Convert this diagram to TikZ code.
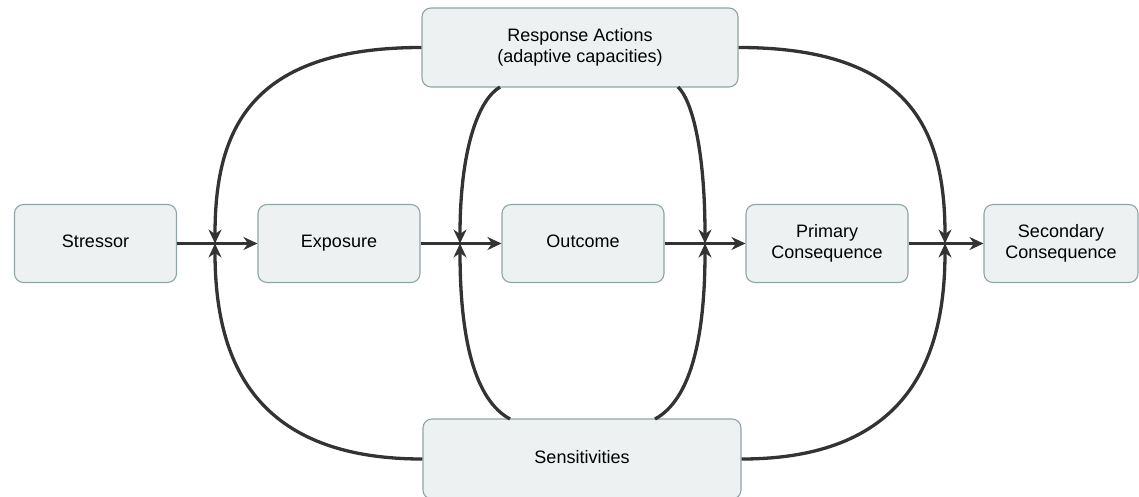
\documentclass[tikz,border=0pt]{standalone}
\usepackage{fontspec}
\setmainfont{Liberation Sans}
\usetikzlibrary{arrows.meta}
\definecolor{boxfill}{HTML}{EEF1F1}
\definecolor{boxline}{HTML}{8FA5A5}
\definecolor{linecol}{HTML}{333333}
\tikzset{
  box/.style={draw=boxline, line width=1.1pt, fill=boxfill, rounded corners=9pt,
    minimum width=162pt, minimum height=78pt, align=center, inner sep=2pt,
    font=\fontsize{18pt}{21pt}\selectfont},
  conn/.style={draw=linecol, line width=3.3pt, -{Stealth[length=14pt,width=13pt]}},
  curve/.style={draw=linecol, line width=3.3pt, -{Stealth[length=14pt,width=13pt]}},
}
\begin{document}
\begin{tikzpicture}[x=1pt,y=-1pt]
\useasboundingbox (0,0) rectangle (1139,496);
\node[box] (stressor) at (95.5,243.5) {\strut Stressor};
\node[box] (exposure) at (339,243.5) {\strut Exposure};
\node[box] (outcome) at (583,243.5) {\strut Outcome};
\node[box] (primary) at (827,243.5) {Primary\\Consequence};
\node[box, minimum width=154pt] (secondary) at (1061,243.5) {Secondary\\Consequence};
\node[box, minimum width=316pt, minimum height=79pt] (resp) at (580,47.5) {Response Actions\\(adaptive capacities)};
\node[box, minimum width=318pt, minimum height=80pt] (sens) at (582,459) {\strut Sensitivities};

\coordinate (j1) at (215,243.5);
\coordinate (j2) at (460,243.5);
\coordinate (j3) at (705,243.5);
\coordinate (j4) at (945,243.5);

\coordinate (r1) at (500,87);
\coordinate (r2) at (678,87);
\coordinate (s1) at (510,419);
\coordinate (s2) at (655,419);

% horizontal arrows
\draw[conn] (stressor.east) -- (exposure.west);
\draw[conn] (exposure.east) -- (outcome.west);
\draw[conn] (outcome.east) -- (primary.west);
\draw[conn] (primary.east) -- (secondary.west);

% outer curves
\draw[curve] (resp.west) .. controls (247,47.5) and (215,133) .. (j1);
\draw[curve] (sens.west) .. controls (248,459) and (215,353) .. (j1);
\draw[curve] (resp.east) .. controls (913,47.5) and (945,133) .. (j4);
\draw[curve] (sens.east) .. controls (912,459) and (945,353) .. (j4);

% inner curves
\draw[curve] (r1) .. controls (478,100) and (460,150) .. (j2);
\draw[curve] (s1) .. controls (475,400) and (460,340) .. (j2);
\draw[curve] (r2) .. controls (692,100) and (705,150) .. (j3);
\draw[curve] (s2) .. controls (690,400) and (705,340) .. (j3);
\end{tikzpicture}
\end{document}
